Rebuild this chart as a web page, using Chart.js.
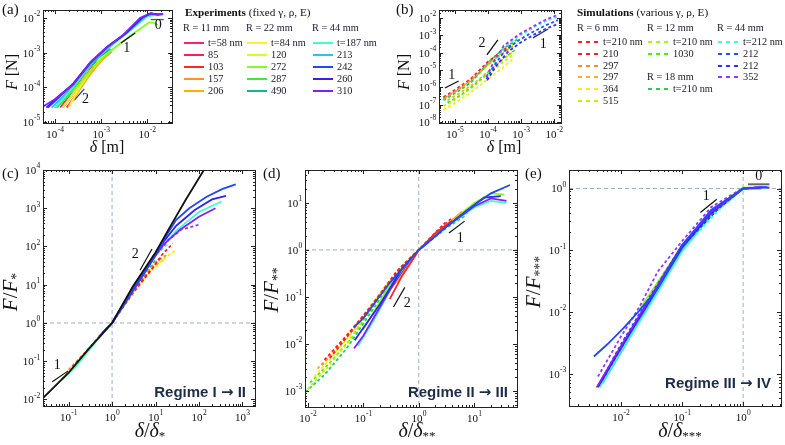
<!DOCTYPE html>
<html><head><meta charset="utf-8">
<script src="https://cdn.jsdelivr.net/npm/chart.js@4"></script>
<style>
body{margin:0;background:#fff}
#fig{position:relative;width:785px;height:445px;overflow:hidden;font-family:'Liberation Serif','Times New Roman',Tinos,serif;color:#111}
canvas{position:absolute}
.t{position:absolute;white-space:nowrap;line-height:1;font-family:'Liberation Serif','Times New Roman',Tinos,serif}
.c{transform:translate(-50%,-50%)}
.r{transform:translate(-50%,-50%) rotate(-90deg)}
.reg{position:absolute;font-family:'Liberation Sans',Arial,sans-serif;font-weight:bold;font-size:15px;color:#1d2d45;white-space:nowrap;transform:translate(-100%,-50%)}
.reg span{font-family:'DejaVu Sans',sans-serif;font-size:15px}
.leg{position:absolute;font-family:'Liberation Serif','Times New Roman',Tinos,serif;font-size:10.3px;line-height:1;white-space:nowrap;transform:translateY(-50%);color:#1a1a2a}
.sw{position:absolute;height:2px;width:20px;transform:translateY(-50%)}
sub{font-size:65%;vertical-align:-0.3em}
</style></head>
<body>
<div id="fig">
  <canvas id="ca" width="180" height="160" style="left:0;top:0"></canvas>
  <canvas id="cb" width="180" height="160" style="left:390px;top:0"></canvas>
  <canvas id="cc" width="262" height="285" style="left:0;top:160px"></canvas>
  <canvas id="cd" width="262" height="285" style="left:262px;top:160px"></canvas>
  <canvas id="ce" width="261" height="285" style="left:524px;top:160px"></canvas>

  <div class="t" style="left:2px;top:2px;font-size:15px">(a)</div>
  <div class="t" style="left:396px;top:2px;font-size:15px">(b)</div>
  <div class="t" style="left:2px;top:166px;font-size:15px">(c)</div>
  <div class="t" style="left:263px;top:166px;font-size:15px">(d)</div>
  <div class="t" style="left:525px;top:166px;font-size:15px">(e)</div>

  <div class="t r" style="left:12px;top:72px;font-size:16px"><i>F</i> [N]</div>
  <div class="t c" style="left:107px;top:147px;font-size:16px"><i>δ</i> [m]</div>
  <div class="t r" style="left:404px;top:72px;font-size:16px"><i>F</i> [N]</div>
  <div class="t c" style="left:504px;top:147px;font-size:16px"><i>δ</i> [m]</div>

  <div class="t r" style="left:12px;top:292px;font-size:21px"><i>F</i>/<i>F</i><sub>*</sub></div>
  <div class="t c" style="left:150px;top:431px;font-size:20px"><i>δ</i>/<i>δ</i><sub>*</sub></div>
  <div class="t r" style="left:273px;top:290px;font-size:21px"><i>F</i>/<i>F</i><sub>**</sub></div>
  <div class="t c" style="left:417px;top:431px;font-size:20px"><i>δ</i>/<i>δ</i><sub>**</sub></div>
  <div class="t r" style="left:535px;top:282px;font-size:21px"><i>F</i>/<i>F</i><sub>***</sub></div>
  <div class="t c" style="left:680px;top:431px;font-size:20px"><i>δ</i>/<i>δ</i><sub>***</sub></div>

  <div class="reg" style="left:246px;top:392px">Regime I <span>→</span> II</div>
  <div class="reg" style="left:508px;top:392px">Regime II <span>→</span> III</div>
  <div class="reg" style="left:771px;top:383px">Regime III <span>→</span> IV</div>

  <div class="t" style="left:185px;top:7px;font-size:11.2px"><b>Experiments</b> (fixed γ, ρ, E)</div>
  <div class="t" style="left:577px;top:7px;font-size:11.2px"><b>Simulations</b> (various γ, ρ, E)</div>
  <div id="legends"></div>
</div>

<script>
// ---- legend entries ----
const expGroups = ['R = 11 mm', 'R = 22 mm', 'R = 44 mm'];
const expNames = ['t=58 nm', '85', '103', '157', '206',
                  't=84 nm', '120', '272', '287', '490',
                  't=187 nm', '213', '242', '260', '310'];
const expColors = ['#ff2070', '#ff2050', '#ff2828', '#ff9030', '#ffb000',
                   '#fff030', '#d0ff30', '#80ff20', '#40e840', '#12b88a',
                   '#40ffc8', '#30c0e8', '#2048ff', '#3422f0', '#8420ff'];

const simGroups = ['R = 6 mm', 'R = 12 mm', 'R = 18 mm', 'R = 44 mm'];
const simNames = ['t=210 nm', '210', '297', '297', '364', '515',
                  't=210 nm', '1030', 't=210 nm',
                  't=212 nm', '212', '212', '352'];
const simColors = ['#ff2020', '#ff1c30', '#ff9020', '#ffb020', '#ffee00', '#c8f000',
                   '#a0ff00', '#50ee00', '#20cc60',
                   '#40ffd8', '#2050ff', '#3030ee', '#9933ff'];

// ---- (a) experiments: delta [m], F [N] ----
const expA = [
  [[1.3e-4,2.6e-5],[2e-4,5.5e-5],[3.5e-4,1.6e-4],[6e-4,4.5e-4],[1e-3,1e-3]],
  [[1.5e-4,2.6e-5],[2.3e-4,5.5e-5],[4e-4,1.6e-4],[6.5e-4,4e-4],[9e-4,8e-4]],
  [[1.8e-4,2.6e-5],[2.7e-4,5.5e-5],[4.5e-4,1.5e-4],[7e-4,3.5e-4],[1.1e-3,7.5e-4]],
  [[4e-4,1.8e-4],[7e-4,3.6e-4],[1.1e-3,6.5e-4],[1.7e-3,1.05e-3]],
  [[2.5e-4,4e-5],[3.5e-4,9e-5],[5e-4,1.8e-4],[8e-4,4e-4],[1.3e-3,8e-4]],
  [[2e-4,2.8e-5],[3.5e-4,1e-4],[6e-4,3e-4],[1.1e-3,7.5e-4]],
  [[1.5e-4,2.6e-5],[3e-4,9e-5],[7e-4,4e-4],[1.5e-3,1.15e-3]],
  [[1e-4,2.6e-5],[1.6e-4,4.5e-5],[3.5e-4,1.3e-4],[8e-4,5e-4],[2e-3,1.4e-3],[5e-3,3.5e-3],[1.1e-2,7.5e-3],[1.4e-2,7.3e-3],[1.7e-2,6.3e-3]],
  [[1.1e-4,2.6e-5],[2e-4,6e-5],[4e-4,2.2e-4],[9e-4,7.5e-4],[1.8e-3,1.7e-3]],
  [[1e-4,2.6e-5],[1.8e-4,6e-5],[3.5e-4,2e-4],[8e-4,6.5e-4],[1.6e-3,1.3e-3]],
  [[1e-4,2.6e-5],[1.6e-4,5e-5],[3e-4,1.4e-4],[7e-4,6e-4],[1.5e-3,1.4e-3],[4e-3,4e-3],[1e-2,1.1e-2],[1.6e-2,1.25e-2],[2.3e-2,1.3e-2]],
  [[8.5e-5,2.6e-5],[1.4e-4,5e-5],[2.8e-4,1.4e-4],[6.5e-4,5.5e-4],[1.5e-3,1.5e-3],[4e-3,4.2e-3],[1e-2,1.2e-2],[1.5e-2,1.3e-2],[2.2e-2,1.28e-2]],
  [[7e-5,2.6e-5],[1.1e-4,4.5e-5],[2.5e-4,1.3e-4],[6e-4,5.5e-4],[1.4e-3,1.5e-3],[3.5e-3,3.6e-3],[8e-3,1.05e-2],[1.2e-2,1.35e-2],[1.7e-2,1.25e-2],[2.2e-2,1.3e-2]],
  [[6.5e-5,2.6e-5],[1.1e-4,5e-5],[2.5e-4,1.25e-4],[5.8e-4,5e-4],[1.35e-3,1.45e-3],[3.2e-3,3.4e-3],[7.5e-3,1e-2],[1.2e-2,1.35e-2],[1.8e-2,1.25e-2]],
  [[5e-5,2.6e-5],[1e-4,4.5e-5],[2.5e-4,1.2e-4],[5.7e-4,5e-4],[1.35e-3,1.45e-3],[3e-3,3.2e-3],[7e-3,1e-2],[1.2e-2,1.38e-2],[1.6e-2,1.25e-2],[2.2e-2,1.3e-2]]
];

// ---- (b) simulations: delta [m], F [N] ----
const simB = [
  [[4.5e-6,2.7e-7],[1e-5,7e-7],[3e-5,3e-6],[1e-4,3e-5],[3e-4,1.5e-4],[6e-4,3.5e-4]],
  [[4.5e-6,2.2e-7],[1e-5,5.5e-7],[3e-5,2.2e-6],[1e-4,2.2e-5],[3e-4,1.2e-4],[5e-4,2.2e-4]],
  [[5e-6,2.5e-7],[1.2e-5,7e-7],[3e-5,2.5e-6],[1e-4,2e-5],[3e-4,1e-4],[6e-4,2.5e-4]],
  [[6e-6,1.8e-7],[1.5e-5,5e-7],[4e-5,1.8e-6],[1e-4,8e-6],[3e-4,4.5e-5],[6e-4,1.2e-4]],
  [[4.5e-6,5e-8],[1e-5,1.2e-7],[3e-5,5e-7],[1e-4,3e-6],[3e-4,1.5e-5],[6e-4,4.5e-5]],
  [[4.5e-6,8e-8],[1e-5,2e-7],[3e-5,9e-7],[1e-4,6e-6],[3e-4,3e-5],[6e-4,8e-5]],
  [[4.5e-6,2e-7],[1e-5,5e-7],[3e-5,2e-6],[1e-4,2e-5],[3e-4,1.2e-4],[7e-4,4e-4]],
  [[6e-6,1.3e-7],[1.5e-5,3.5e-7],[4e-5,1.4e-6],[1e-4,7e-6],[3e-4,5e-5],[7e-4,1.5e-4]],
  [[4.5e-6,1.8e-7],[1e-5,4.5e-7],[3e-5,1.8e-6],[1e-4,2.5e-5],[3e-4,1.8e-4],[8e-4,6e-4]],
  [[9e-5,3.5e-6],[1.5e-4,2.5e-5],[3e-4,2e-4],[8e-4,8e-4],[2.5e-3,3e-3],[6e-3,7e-3],[1.3e-2,1.2e-2]],
  [[9e-5,3e-6],[1.6e-4,2e-5],[3.5e-4,1.5e-4],[9e-4,5.5e-4],[2.5e-3,1.7e-3],[6e-3,4e-3],[1.3e-2,7.5e-3]],
  [[9.5e-5,2.5e-6],[1.7e-4,1.5e-5],[4e-4,1.1e-4],[1e-3,4e-4],[2.5e-3,1.1e-3],[6e-3,2.5e-3],[1.3e-2,4.5e-3]],
  [[9e-5,4e-6],[1.5e-4,3e-5],[3e-4,2.5e-4],[8e-4,1e-3],[2.5e-3,3.5e-3],[6e-3,8.5e-3],[1.3e-2,1.5e-2]]
];

// ---- (c) rescaled by delta*, F* ; [source, index, points] ----
const curvesC = [
  ['sim',4,[[0.08,0.04],[0.2,0.11],[0.5,0.42],[1,1],[3,6],[8,24],[18,55],[30,80]]],
  ['sim',5,[[0.07,0.035],[0.15,0.08],[0.4,0.32],[1,1],[3,6.5],[7,22],[15,45]]],
  ['sim',8,[[0.07,0.033],[0.2,0.12],[0.6,0.55],[1,1],[4,11],[10,45]]],
  ['sim',2,[[0.1,0.06],[0.3,0.22],[1,1],[4,10],[10,40],[18,60]]],
  ['sim',0,[[0.12,0.07],[0.35,0.27],[1,1],[3,6],[7,20],[14,60],[25,120]]],
  ['sim',1,[[0.15,0.09],[0.4,0.32],[1,1],[3,7],[8,25],[13,50]]],
  ['sim',9,[[0.1,0.05],[0.3,0.22],[1,1],[3,8],[10,60],[20,120]]],
  ['exp',10,[[0.07,0.033],[0.15,0.075],[0.4,0.3],[1,1],[3,7],[10,60],[30,260],[100,800],[330,1500]]],
  ['sim',10,[[1,1],[4,13],[10,70],[20,200]]],
  ['sim',12,[[1,1],[4,14],[10,60],[20,150],[40,280],[70,330],[105,380]]],
  ['exp',13,[[1,1],[3,7],[8,40],[15,130],[30,350],[80,900],[200,1700],[420,2100]]],
  ['exp',14,[[0.5,0.45],[1,1],[3,8],[8,40],[15,110],[36,270],[100,600],[240,1000]]],
  ['exp',12,[[0.6,0.55],[1,1],[2,3.5],[5,17],[10,60],[18,200],[30,500],[60,1000],[150,2000],[350,3200],[700,4200]]]
];
const theoryC = [[0.026,0.011],[0.1,0.05],[0.3,0.22],[1,1],[3,9],[10,70],[20,280],[50,1700],[130,10000]];

// ---- (d) rescaled by delta**, F** ----
const curvesD = [
  ['sim',8,[[0.009,0.00095],[0.02,0.0022],[0.05,0.008],[0.15,0.055],[0.4,0.3],[1,1],[3,2.8],[7,5.5]]],
  ['sim',7,[[0.011,0.0015],[0.025,0.004],[0.06,0.013],[0.2,0.1],[0.5,0.45],[1,1],[3,3],[8,6.5]]],
  ['sim',5,[[0.01,0.0011],[0.02,0.0027],[0.05,0.01],[0.15,0.07],[0.5,0.45],[1,1],[3,3.2]]],
  ['sim',4,[[0.013,0.002],[0.03,0.006],[0.08,0.025],[0.25,0.17],[1,1],[3,3.3],[6,6]]],
  ['sim',3,[[0.015,0.003],[0.04,0.01],[0.12,0.05],[0.4,0.33],[1,1],[3,3.5],[7,6.5]]],
  ['sim',2,[[0.018,0.0035],[0.04,0.011],[0.1,0.04],[0.4,0.35],[1,1],[4,4.5]]],
  ['sim',0,[[0.02,0.0046],[0.05,0.015],[0.15,0.07],[0.4,0.35],[1,1],[2.5,3],[4,4.8]]],
  ['sim',1,[[0.025,0.005],[0.06,0.018],[0.2,0.11],[0.5,0.45],[1,1],[3,3.8]]],
  ['exp',10,[[0.08,0.009],[0.15,0.03],[0.4,0.25],[1,1],[3,3],[10,8],[20,11],[38,10]]],
  ['exp',7,[[0.1,0.02],[0.3,0.18],[1,1],[3,3.2],[10,10],[20,16],[35,15]]],
  ['exp',14,[[0.068,0.008],[0.1,0.015],[0.3,0.14],[1,1],[3,3],[10,8.5],[20,12.5],[38,11]]],
  ['exp',13,[[0.07,0.012],[0.2,0.07],[0.5,0.4],[1,1],[4,4],[15,13],[30,14]]],
  ['exp',4,[[0.4,0.2],[1,1],[3,3.3],[6,6.5]]],
  ['exp',2,[[0.3,0.09],[0.5,0.28],[0.8,0.65],[1,1],[2,2.3],[4,4.2]]],
  ['exp',12,[[0.068,0.023],[0.1,0.035],[0.3,0.2],[1,1],[3,3],[10,9],[20,16],[44,24]]]
];

// ---- (e) rescaled by delta***, F*** ----
const curvesE = [
  ['sim',9,[[0.005,0.0007],[0.012,0.003],[0.04,0.022],[0.1,0.1],[0.4,0.45],[1,1],[1.6,1.0]]],
  ['exp',11,[[0.005,0.0007],[0.012,0.003],[0.03,0.014],[0.1,0.1],[0.3,0.38],[1,1],[2,1.0]]],
  ['exp',10,[[0.0045,0.0006],[0.01,0.0023],[0.03,0.013],[0.1,0.095],[0.3,0.37],[1,0.98],[2.5,1.02]]],
  ['exp',7,[[0.02,0.011],[0.05,0.042],[0.1,0.12],[0.3,0.43],[1,1.04],[1.7,1.0]]],
  ['sim',11,[[0.005,0.0008],[0.012,0.0035],[0.03,0.017],[0.1,0.115],[0.4,0.48],[1,1],[1.8,1.02]]],
  ['sim',10,[[0.0045,0.0007],[0.01,0.003],[0.03,0.018],[0.1,0.12],[0.4,0.5],[1,1],[2,1.04]]],
  ['exp',13,[[0.0042,0.0006],[0.008,0.0018],[0.02,0.008],[0.05,0.035],[0.1,0.11],[0.3,0.4],[1,1],[2,1.04]]],
  ['exp',14,[[0.004,0.0006],[0.01,0.0028],[0.03,0.017],[0.1,0.12],[0.3,0.42],[1,1],[2,1.05],[2.7,1.03]]],
  ['sim',12,[[0.0042,0.0009],[0.01,0.004],[0.02,0.012],[0.04,0.045],[0.1,0.14],[0.3,0.5],[1,1.02],[2,1.05]]],
  ['exp',12,[[0.0036,0.0019],[0.006,0.003],[0.011,0.0055],[0.02,0.0105],[0.04,0.024],[0.1,0.12],[0.3,0.45],[1,1],[1.5,1.03],[2.5,1.05]]]
];

// ---- slope guides [x0,y0,x1,y1] and their labels [x,y,text] ----
const slopesA = [[2.7e-3,1.9e-3,5.5e-3,3.7e-3],[2.7e-4,4.4e-5,4.3e-4,8.9e-5],[1.2e-2,9e-3,2.3e-2,9e-3]];
const notesA = [[3.6e-3,1.3e-3,'1'],[4.6e-4,4.6e-5,'2'],[1.75e-2,6.2e-3,'0']];
const slopesB = [[5e-6,9.1e-7,1.3e-5,2.3e-6],[9.3e-5,7.4e-5,2e-4,5.4e-4],[2.3e-3,7.1e-4,6.6e-3,2.3e-3]];
const notesB = [[8.1e-6,4.8e-6,'1'],[6.6e-5,3.4e-4,'2'],[4.7e-3,3.2e-4,'1']];
const slopesC = [[0.042,0.029,0.098,0.056],[4.4,24,8.3,86]];
const notesC = [[0.055,0.08,'1'],[3.4,62,'2']];
const slopesD = [[3.5,2.3,6.7,4.1],[0.35,0.061,0.56,0.16]];
const notesD = [[5.6,1.75,'1'],[0.62,0.075,'2']];
const slopesE = [[0.2,0.41,0.37,0.67],[1.2,1.17,2.7,1.17]];
const notesE = [[0.25,0.74,'1'],[1.8,1.6,'0']];

// ---- drawing helpers ----
const SERIF = "'Liberation Serif','Times New Roman',Tinos,serif";

function pow10(ctx, k, x, y, align) {
  ctx.font = '11px ' + SERIF;
  const w1 = ctx.measureText('10').width;
  const e = String(k);
  ctx.font = '7.5px ' + SERIF;
  const w2 = ctx.measureText(e).width;
  const left = align === 'center' ? x - (w1 + w2) / 2 : x - (w1 + w2);
  ctx.textAlign = 'left'; ctx.textBaseline = 'middle';
  ctx.font = '11px ' + SERIF; ctx.fillText('10', left, y);
  ctx.font = '7.5px ' + SERIF; ctx.fillText(e, left + w1 + 0.3, y - 4.5);
}

function eachTick(s, fn) {
  const k0 = Math.floor(Math.log10(s.min)), k1 = Math.ceil(Math.log10(s.max));
  for (let k = k0; k <= k1; k++) {
    for (let m = 1; m < 10; m++) {
      const v = m * Math.pow(10, k);
      if (v < s.min * 0.999 || v > s.max * 1.001) continue;
      fn(v, m === 1, k);
    }
  }
}

const deco = {
  id: 'deco',
  beforeDatasetsDraw(chart, args, o) {
    if (!o.guides) return;
    const ctx = chart.ctx, a = chart.chartArea;
    const gx = chart.scales.x.getPixelForValue(1), gy = chart.scales.y.getPixelForValue(1);
    ctx.save();
    ctx.strokeStyle = '#9fadc4'; ctx.lineWidth = 1; ctx.setLineDash([4, 3]);
    ctx.beginPath();
    ctx.moveTo(gx, a.top); ctx.lineTo(gx, a.bottom);
    ctx.moveTo(a.left, gy); ctx.lineTo(a.right, gy);
    ctx.stroke();
    ctx.restore();
  },
  afterDraw(chart, args, o) {
    const ctx = chart.ctx, a = chart.chartArea, xs = chart.scales.x, ys = chart.scales.y;
    ctx.save();
    ctx.strokeStyle = '#222'; ctx.lineWidth = 1; ctx.fillStyle = '#111';
    ctx.strokeRect(Math.round(a.left) + 0.5, Math.round(a.top) + 0.5,
                   Math.round(a.right - a.left), Math.round(a.bottom - a.top));
    ctx.beginPath();
    eachTick(xs, (v, major) => {
      const p = Math.round(xs.getPixelForValue(v)) + 0.5, L = major ? 4 : 2;
      ctx.moveTo(p, a.bottom); ctx.lineTo(p, a.bottom - L);
      ctx.moveTo(p, a.top); ctx.lineTo(p, a.top + L);
    });
    eachTick(ys, (v, major) => {
      const p = Math.round(ys.getPixelForValue(v)) + 0.5, L = major ? 4 : 2;
      ctx.moveTo(a.left, p); ctx.lineTo(a.left + L, p);
      ctx.moveTo(a.right, p); ctx.lineTo(a.right - L, p);
    });
    ctx.stroke();
    eachTick(xs, (v, major, k) => { if (major) pow10(ctx, k, xs.getPixelForValue(v), a.bottom + 12, 'center'); });
    eachTick(ys, (v, major, k) => { if (major) pow10(ctx, k, a.left - 3, ys.getPixelForValue(v) + 1, 'right'); });
    ctx.font = '14px ' + SERIF; ctx.textAlign = 'center'; ctx.textBaseline = 'middle';
    (o.notes || []).forEach(n => ctx.fillText(n[2], xs.getPixelForValue(n[0]), ys.getPixelForValue(n[1])));
    ctx.restore();
  }
};

function line(pts, color, dashed, w) {
  return {
    data: pts.map(p => ({ x: p[0], y: p[1] })),
    showLine: true, borderColor: color, borderWidth: w || 1.8,
    borderDash: dashed ? [3, 2.5] : [], pointRadius: 0, fill: false, tension: 0
  };
}
function slopeSets(list, color) {
  return list.map(s => line([[s[0], s[1]], [s[2], s[3]]], color, false, 1.2));
}
function fromCurves(list) {
  return list.map(c => c[0] === 'exp'
    ? line(c[2], expColors[c[1]], false)
    : line(c[2], simColors[c[1]], true));
}

function panel(id, pad, xr, yr, datasets, notes, guides) {
  new Chart(document.getElementById(id), {
    type: 'scatter',
    data: { datasets },
    options: {
      responsive: false, animation: false, events: [],
      layout: { padding: pad },
      scales: {
        x: { type: 'logarithmic', display: false, min: Math.pow(10, xr[0]), max: Math.pow(10, xr[1]) },
        y: { type: 'logarithmic', display: false, min: Math.pow(10, yr[0]), max: Math.pow(10, yr[1]) }
      },
      plugins: { legend: { display: false }, tooltip: { enabled: false }, deco: { notes, guides } }
    },
    plugins: [deco]
  });
}

// first dataset is drawn on top, so reverse the curve lists
panel('ca', { left: 43, top: 10, right: 8, bottom: 37 }, [-4.26, -1.46], [-5.03, -1.77],
  slopesA.map((s, i) => line([[s[0], s[1]], [s[2], s[3]]], i === 0 ? '#111' : (i === 1 ? '#4040b0' : '#555577'), false, 1.3))
    .concat(expA.map((p, i) => line(p, expColors[i], false)).reverse()),
  notesA, false);

panel('cb', { left: 49, top: 10, right: 9, bottom: 37 }, [-5.48, -1.79], [-8.06, -1.54],
  slopesB.map((s, i) => line([[s[0], s[1]], [s[2], s[3]]], i === 2 ? '#2a2a90' : '#111', false, 1.3))
    .concat(simB.map((p, i) => line(p, simColors[i], true)).reverse()),
  notesB, false);

panel('cc', { left: 43, top: 10, right: 7, bottom: 39 }, [-1.59, 3.29], [-2.17, 4.0],
  slopeSets(slopesC, '#111').concat([line(theoryC, '#111', false, 1.8)], fromCurves(curvesC).reverse()),
  notesC, true);

panel('cd', { left: 43, top: 10, right: 7, bottom: 38 }, [-2.05, 1.77], [-3.34, 1.70],
  slopeSets(slopesD, '#111').concat(fromCurves(curvesD).reverse()),
  notesD, true);

panel('ce', { left: 45, top: 10, right: 4, bottom: 39 }, [-2.85, 0.62], [-3.52, 0.30],
  slopesE.map((s, i) => line([[s[0], s[1]], [s[2], s[3]]], i === 0 ? '#111' : '#666', false, i === 0 ? 1.2 : 2))
    .concat(fromCurves(curvesE).reverse()),
  notesE, true);

// ---- legends (HTML text) ----
const legendBox = document.getElementById('legends');
function addText(x, y, txt) {
  const d = document.createElement('div');
  d.className = 'leg'; d.style.left = x + 'px'; d.style.top = y + 'px'; d.textContent = txt;
  legendBox.appendChild(d);
}
function addSwatch(x, y, color, dashed) {
  const d = document.createElement('div');
  d.className = 'sw'; d.style.left = x + 'px'; d.style.top = y + 'px';
  d.style.background = dashed
    ? 'repeating-linear-gradient(90deg,' + color + ' 0 4px,transparent 4px 8px)'
    : color;
  legendBox.appendChild(d);
}
const expCols = [184, 247, 313];
expGroups.forEach((g, c) => {
  addText(expCols[c] - 1, 28, g);
  for (let r = 0; r < 5; r++) {
    const i = c * 5 + r, y = 43 + r * 12;
    addSwatch(expCols[c], y, expColors[i], false);
    addText(expCols[c] + 24, y, expNames[i]);
  }
});
// simulation columns: [group, column x, first row, entry indices]
const simLayout = [[0, 578, 0, [0, 1, 2, 3, 4, 5]], [1, 648, 0, [6, 7]], [2, 648, 3, [8]], [3, 718, 0, [9, 10, 11, 12]]];
simLayout.forEach(([g, x, r0, idx]) => {
  addText(x - 1, 28 + r0 * 11.8 + (r0 ? 13.8 : 0), simGroups[g]);
  idx.forEach((i, r) => {
    const y = 42 + (r0 + r) * 11.8 + (r0 ? 12 : 0);
    addSwatch(x, y, simColors[i], true);
    addText(x + 25, y, simNames[i]);
  });
});
</script>
</body></html>
